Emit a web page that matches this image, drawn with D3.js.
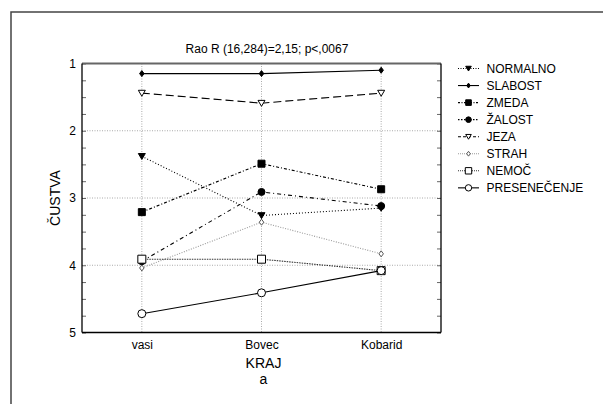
<!DOCTYPE html>
<html>
<head>
<meta charset="utf-8">
<script src="https://cdn.jsdelivr.net/npm/d3@7"></script>
<style>
  html, body { margin: 0; padding: 0; background: #fff; }
  svg { display: block; font-family: "Liberation Sans", Arial, sans-serif; }
</style>
</head>
<body>
<svg id="chart" width="603" height="404"></svg>
<script>
const categories = ["vasi", "Bovec", "Kobarid"];
const seriesNames = ["NORMALNO", "SLABOST", "ZMEDA", "ŽALOST", "JEZA", "STRAH", "NEMOČ", "PRESENEČENJE"];
const normalno     = [2.38, 3.26, 3.15];
const slabost      = [1.15, 1.15, 1.10];
const zmeda        = [3.21, 2.49, 2.87];
const zalost       = [3.94, 2.91, 3.12];
const jeza         = [1.44, 1.59, 1.44];
const strah        = [4.04, 3.36, 3.83];
const nemoc        = [3.91, 3.91, 4.08];
const presenecenje = [4.72, 4.41, 4.08];
const yTicks = [1, 2, 3, 4, 5];
const titleText = "Rao R (16,284)=2,15; p<,0067";
const yTitle = "ČUSTVA";
const xTitle = "KRAJ";
const xSub = "a";

const seriesValues = [normalno, slabost, zmeda, zalost, jeza, strah, nemoc, presenecenje];
const styles = [
  { dash: "1,2",       legDash: "1,1.5",   color: "#000", marker: "triDown", fill: "#000", size: 7 },
  { dash: null,        legDash: null,      color: "#000", marker: "diamond", fill: "#000", size: 6 },
  { dash: "3,2,1,2",   legDash: "2,1.5,1,1.5", color: "#000", marker: "square",  fill: "#000", size: 7 },
  { dash: "4,3,1,3",   legDash: "1.5,1.5", color: "#000", marker: "circle",  fill: "#000", size: 7 },
  { dash: "8,4",       legDash: "3,2",     color: "#000", marker: "triDown", fill: "#fff", size: 7 },
  { dash: "1,1.5",     legDash: "1,1",     color: "#999", marker: "diamond", fill: "#fff", size: 6, mstroke: "#555" },
  { dash: "1.5,1",     legDash: "1,1",     color: "#333", marker: "square",  fill: "#fff", size: 8 },
  { dash: null,        legDash: null,      color: "#000", marker: "circle",  fill: "#fff", size: 8 }
];

const svg = d3.select("#chart");
const M = { left: 82, top: 63.5, right: 441, bottom: 332.5 };

// outer frame
svg.append("rect").attr("x", 11).attr("y", 12).attr("width", 620).attr("height", 420)
  .attr("fill", "none").attr("stroke", "#444").attr("stroke-width", 1.5);

const x = d3.scalePoint().domain(categories).range([M.left, M.right]).padding(0.5);
const y = d3.scaleLinear().domain([1, 5]).range([M.top, M.bottom]);

// grid
const grid = svg.append("g").attr("stroke", "#aaa").attr("stroke-dasharray", "1,1.5").attr("stroke-width", 1);
[2, 3, 4].forEach(v => grid.append("line").attr("x1", M.left).attr("x2", M.right)
  .attr("y1", y(v)).attr("y2", y(v)));
categories.forEach(c => grid.append("line").attr("x1", x(c)).attr("x2", x(c))
  .attr("y1", M.top).attr("y2", M.bottom));

// minor ticks
const quarters = d3.range(1, 5.001, 0.25);
const minorL = svg.append("g").attr("transform", `translate(${M.left},0)`)
  .call(d3.axisLeft(y).tickValues(quarters).tickSize(-4).tickFormat(""));
const minorR = svg.append("g").attr("transform", `translate(${M.right},0)`)
  .call(d3.axisRight(y).tickValues(quarters).tickSize(-4).tickFormat(""));
[minorL, minorR].forEach(g => { g.select(".domain").remove(); g.selectAll("line").attr("stroke", "#666"); });

// y axis labels
const yAx = svg.append("g").attr("transform", `translate(${M.left},0)`)
  .call(d3.axisLeft(y).tickValues(yTicks).tickSize(0).tickPadding(6).tickFormat(d3.format("d")));
yAx.select(".domain").remove();
yAx.selectAll("text").attr("font-size", 12).attr("font-family", "Liberation Sans, Arial, sans-serif").attr("fill", "#000");

// x axis labels
const xAx = svg.append("g").attr("transform", `translate(0,${M.bottom})`)
  .call(d3.axisBottom(x).tickSize(0).tickPadding(8));
xAx.select(".domain").remove();
xAx.selectAll("text").attr("font-size", 12).attr("font-family", "Liberation Sans, Arial, sans-serif").attr("fill", "#000");

// plot frame
svg.append("line").attr("x1", M.left).attr("x2", M.right).attr("y1", M.top).attr("y2", M.top)
  .attr("stroke", "#666").attr("stroke-width", 2);
svg.append("line").attr("x1", M.left).attr("x2", M.left).attr("y1", M.top).attr("y2", M.bottom)
  .attr("stroke", "#000").attr("stroke-width", 1.3);
svg.append("line").attr("x1", M.left).attr("x2", M.right).attr("y1", M.bottom).attr("y2", M.bottom)
  .attr("stroke", "#000").attr("stroke-width", 1.3);
svg.append("line").attr("x1", M.right).attr("x2", M.right).attr("y1", M.top).attr("y2", M.bottom)
  .attr("stroke", "#000").attr("stroke-width", 1.3);

function markerPath(type, s) {
  const h = s / 2;
  if (type === "triDown") return `M${-h},${-h*0.8}L${h},${-h*0.8}L0,${h*0.9}Z`;
  if (type === "diamond") return `M0,${-h}L${h*0.75},0L0,${h}L${-h*0.75},0Z`;
  if (type === "square") return `M${-h},${-h}H${h}V${h}H${-h}Z`;
  return null;
}
function drawMarker(g, st, cx, cy, k) {
  const s = st.size * (k || 1);
  if (st.marker === "circle") {
    g.append("circle").attr("cx", cx).attr("cy", cy).attr("r", s / 2)
      .attr("fill", st.fill).attr("stroke", st.mstroke || "#000").attr("stroke-width", 1);
  } else {
    g.append("path").attr("d", markerPath(st.marker, s))
      .attr("transform", `translate(${cx},${cy})`)
      .attr("fill", st.fill).attr("stroke", st.mstroke || "#000").attr("stroke-width", 1);
  }
}

const line = d3.line().x((d, i) => x(categories[i])).y(d => y(d));
const plot = svg.append("g");
seriesValues.forEach((vals, si) => {
  const st = styles[si];
  plot.append("path").datum(vals).attr("d", line).attr("fill", "none")
    .attr("stroke", st.color).attr("stroke-width", 1.1)
    .attr("stroke-dasharray", st.dash);
});
seriesValues.forEach((vals, si) => {
  const st = styles[si];
  const g = plot.append("g");
  vals.forEach((v, i) => drawMarker(g, st, x(categories[i]), y(v)));
});

// title
svg.append("text").attr("x", 267).attr("y", 53).attr("text-anchor", "middle")
  .attr("font-size", 12).text(titleText);

// axis titles
svg.append("text").attr("transform", `translate(60,198) rotate(-90)`)
  .attr("text-anchor", "middle").attr("font-size", 14).text(yTitle);
svg.append("text").attr("x", 263.5).attr("y", 367.5).attr("text-anchor", "middle")
  .attr("font-size", 14).text(xTitle);
svg.append("text").attr("x", 263.5).attr("y", 383.5).attr("text-anchor", "middle")
  .attr("font-size", 14).text(xSub);

// legend
const leg = svg.append("g");
seriesNames.forEach((name, i) => {
  const st = styles[i];
  const cy = 68.5 + i * 17.05;
  leg.append("line").attr("x1", 458).attr("x2", 479).attr("y1", cy).attr("y2", cy)
    .attr("stroke", st.color).attr("stroke-width", 1.1).attr("stroke-dasharray", st.legDash);
  drawMarker(leg, st, 468.5, cy, 0.8);
  leg.append("text").attr("x", 486.5).attr("y", cy).attr("dy", "0.36em")
    .attr("font-size", 12).text(name);
});
</script>
</body>
</html>
